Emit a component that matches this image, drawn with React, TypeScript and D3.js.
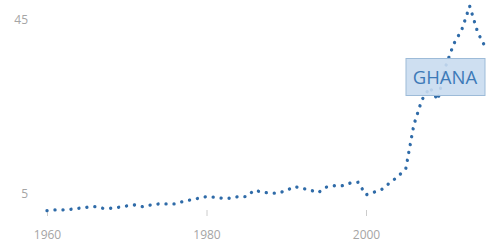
import React, { useEffect, useRef } from 'react';
import * as d3 from 'd3';

// years and values
const years: number[] = d3.range(1960, 2016);
const values: number[] = [
  1.17, 1.33, 1.33, 1.49, 1.72, 1.95, 2.09, 1.72, 1.72, 1.95,
  2.25, 2.48, 2.09, 2.48, 2.71, 2.71, 2.71, 3.24, 3.63, 4.02,
  4.39, 4.25, 4.02, 4.02, 4.39, 4.4, 5.9, 5.4, 5.2, 5.2,
  5.8, 6.7, 6.3, 5.9, 5.3, 6.55, 6.9, 6.9, 7.5, 7.7,
  4.8, 5.4, 6.1, 7.6, 9.0, 10.9, 20.9, 26.6, 29.5, 26.6,
  34.4, 39.5, 42.7, 48.2, 42.2, 38.6,
];
const yTicks: number[] = [5, 45];
const xTicks: number[] = [1960, 1980, 2000];
const countryLabel = 'GHANA';

const W = 486;
const H = 243;

const App = () => {
  const svgRef = useRef<SVGSVGElement>(null);

  useEffect(() => {
    const svg = d3.select(svgRef.current);
    svg.selectAll('*').remove();

    const x = d3.scaleLinear().domain([1960, 2000]).range([47, 366]);
    const y = d3.scaleLinear().domain([5, 45]).range([194, 20]);

    const grey = '#a5a5a5';
    const font = '"Open Sans", "Noto Sans", sans-serif';

    // x axis: only small ticks and labels
    const xAxis = svg
      .append('g')
      .attr('transform', `translate(0,${210})`)
      .call(d3.axisBottom(x).tickValues(xTicks).tickFormat(d3.format('d')).tickSize(6).tickPadding(14));
    xAxis.select('.domain').remove();
    xAxis.selectAll('line').attr('stroke', '#cccccc');
    xAxis.selectAll('text').attr('fill', grey).attr('font-family', font).attr('font-size', 12);

    // y axis labels
    const yAxis = svg
      .append('g')
      .attr('transform', `translate(${30},0)`)
      .call(d3.axisLeft(y).tickValues(yTicks).tickSize(0).tickPadding(2));
    yAxis.select('.domain').remove();
    yAxis.selectAll('text').attr('fill', grey).attr('font-family', font).attr('font-size', 12);

    // dotted series line
    const line = d3
      .line<number>()
      .x((_, i) => x(years[i]))
      .y(d => y(d));

    svg
      .append('path')
      .datum(values)
      .attr('d', line)
      .attr('fill', 'none')
      .attr('stroke', '#2f6ba8')
      .attr('stroke-width', 3.3)
      .attr('stroke-linecap', 'round')
      .attr('stroke-dasharray', '0.1 7.9');

    // country label box
    const lx = 445;
    const ly = 77;
    svg
      .append('rect')
      .attr('x', lx - 39)
      .attr('y', ly - 18.5)
      .attr('width', 79)
      .attr('height', 37)
      .attr('fill', '#c9dcef')
      .attr('fill-opacity', 0.9)
      .attr('stroke', '#9dbbd8')
      .attr('stroke-width', 1);

    svg
      .append('text')
      .attr('x', lx)
      .attr('y', ly + 6.5)
      .attr('text-anchor', 'middle')
      .attr('fill', '#3d7ab8')
      .attr('font-family', font)
      .attr('font-size', 18.5)
      .text(countryLabel);
  }, []);

  return (
    <div style={{ position: 'absolute', left: 0, top: 0, width: W, height: H, background: '#fff' }}>
      <svg ref={svgRef} width={W} height={H} style={{ display: 'block' }}></svg>
    </div>
  );
};

export default App;
